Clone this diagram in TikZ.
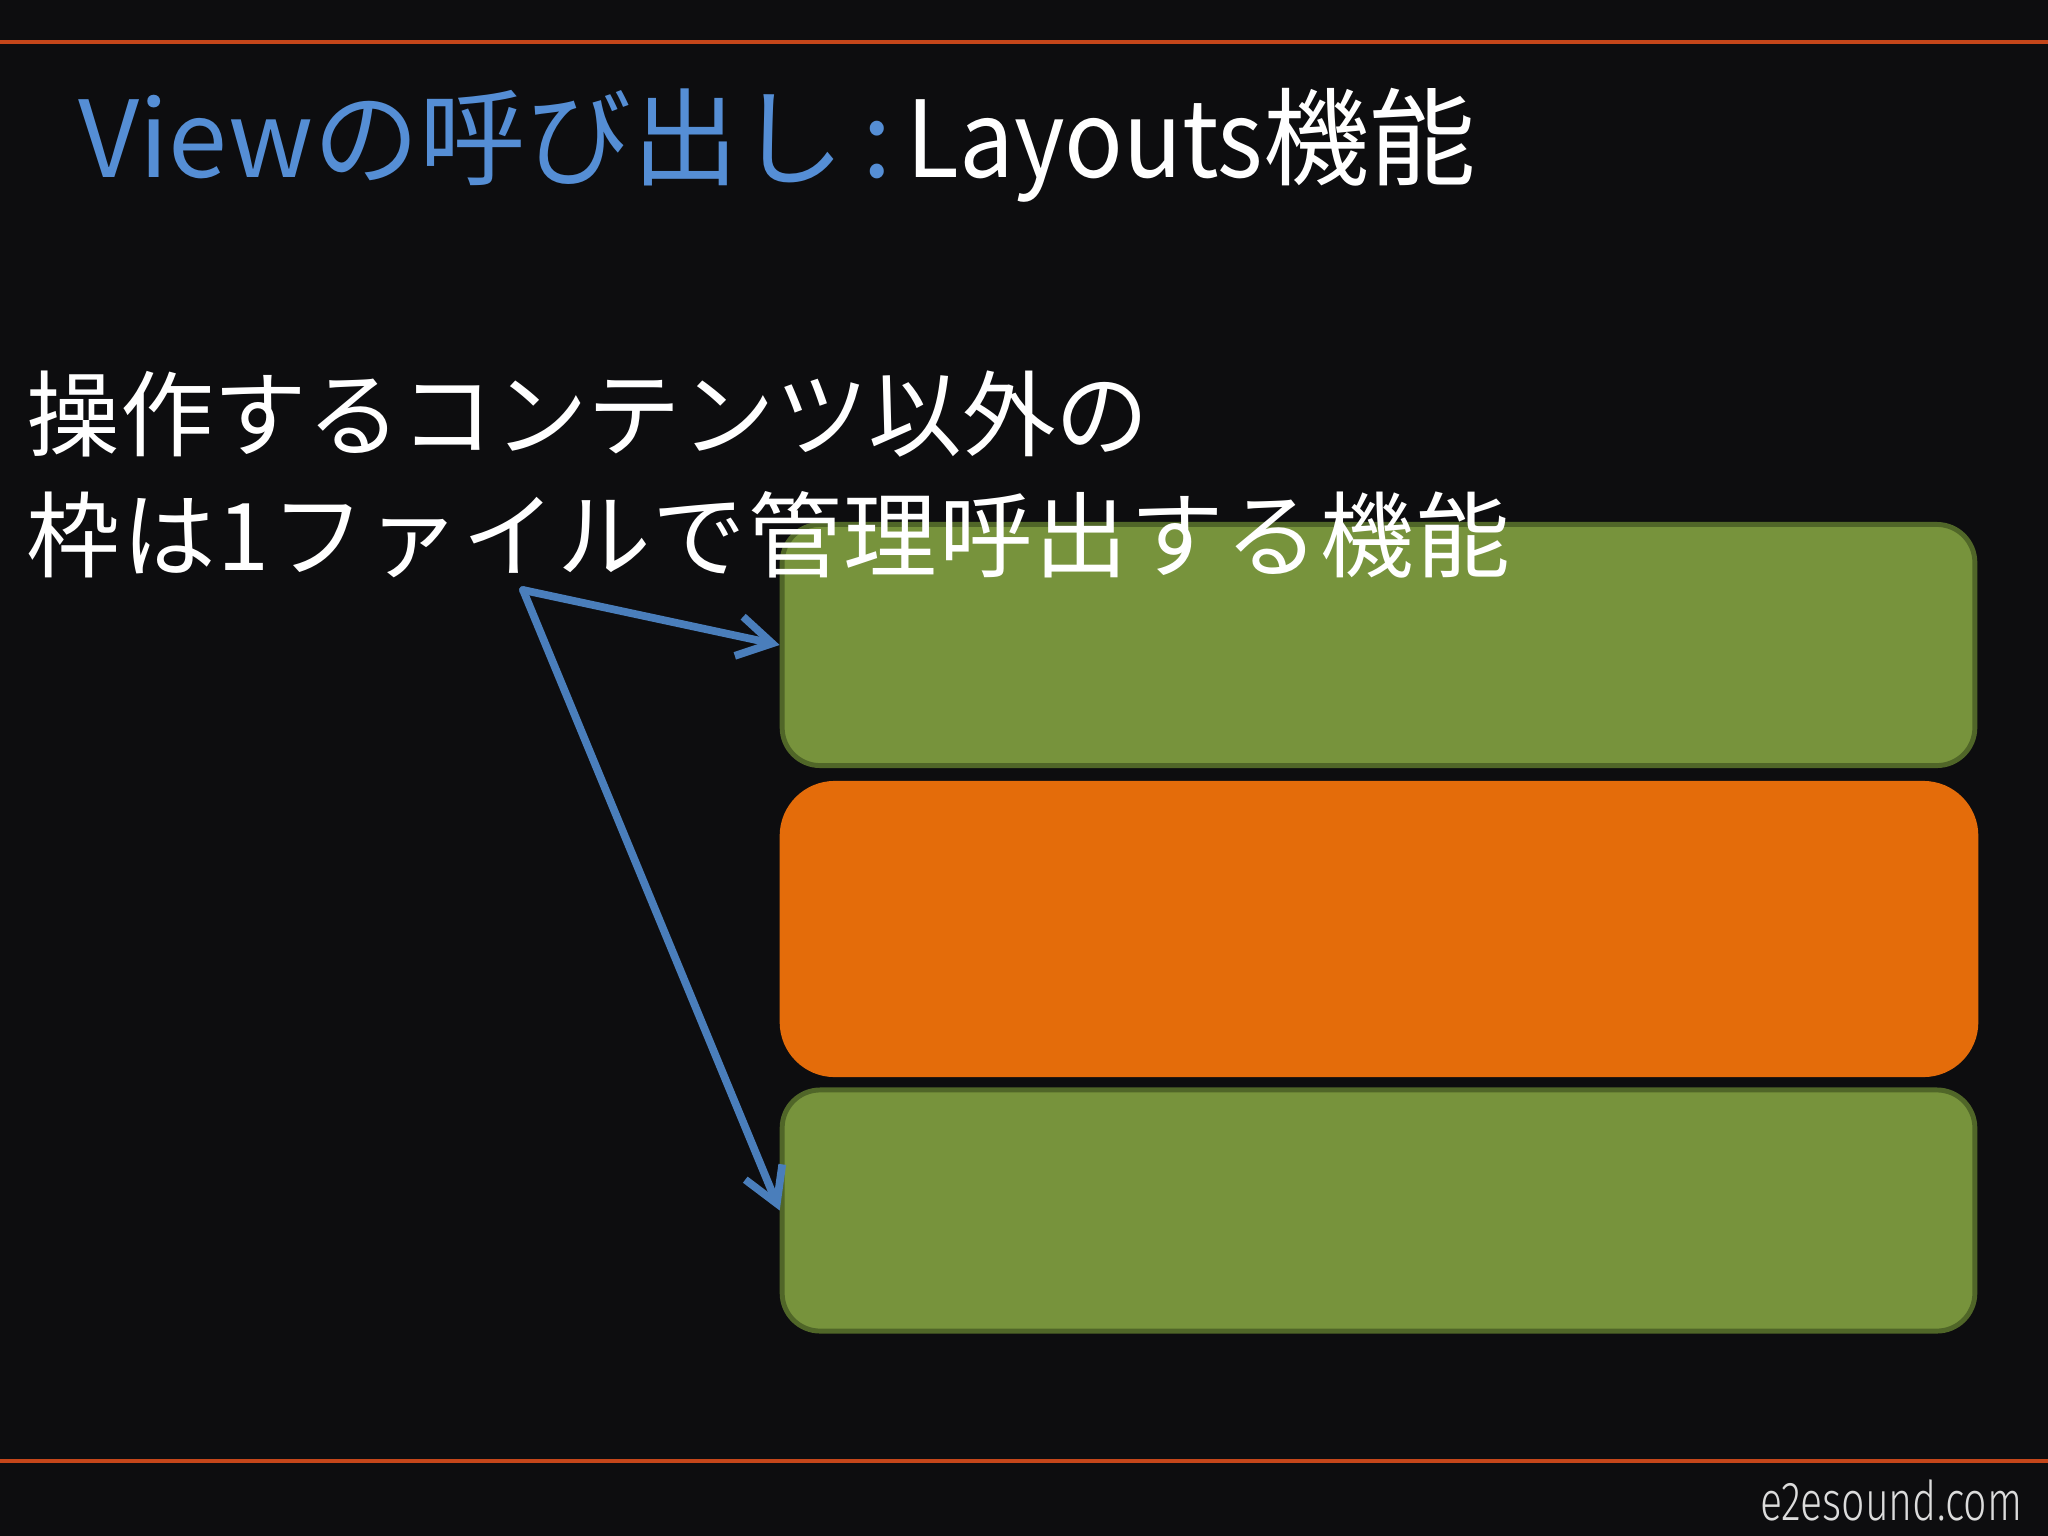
\documentclass[tikz,border=0pt]{standalone}
\usepackage{fontspec}
\setmainfont{Noto Sans CJK JP}
\newfontfamily\logofont{Fira Sans Light}
\usetikzlibrary{arrows.meta}
\definecolor{bg}{RGB}{13,13,15}
\definecolor{rule}{RGB}{196,70,26}
\definecolor{titleblue}{RGB}{85,142,213}
\definecolor{arrowblue}{RGB}{74,126,187}
\definecolor{boxgreen}{RGB}{119,147,60}
\definecolor{boxgreendark}{RGB}{80,102,40}
\definecolor{boxorange}{RGB}{228,108,10}
\definecolor{logogrey}{RGB}{220,220,220}
\tikzset{
  greenbox/.style={draw=boxgreendark, line width=1.4pt, fill=boxgreen, rounded corners=0.38cm, minimum width=11.92cm, minimum height=2.41cm, inner sep=0pt},
  orangebox/.style={fill=boxorange, rounded corners=0.55cm, minimum width=11.98cm, minimum height=2.96cm, inner sep=0pt},
  callout/.style={draw=arrowblue, line width=2.2pt, line cap=round, line join=round, -{Straight Barb[length=0.34cm, width=0.4cm, line width=2.2pt]}},
  titlefont/.style={font=\fontsize{30.2pt}{36pt}\selectfont, inner sep=0pt, anchor=base west},
  bodyfont/.style={font=\fontsize{26.6pt}{34pt}\selectfont, text=white, inner sep=0pt, anchor=base west},
}
\begin{document}
\begin{tikzpicture}[x=0.01cm, y=-0.01cm]
  \fill[bg] (0,0) rectangle (2048,1536);
  \useasboundingbox (0,0) rectangle (2048,1536);
  \draw[rule, line width=0.9pt] (0,42) -- (2048,42);
  \draw[rule, line width=0.9pt] (0,1461) -- (2048,1461);
  % title
  \node[titlefont] (title) at (78,177) {\textcolor{titleblue}{Viewの呼び出し\,:\hspace{0.14em}}\textcolor{white}{\scalebox{0.915}[1]{Layouts}機能}};
  % boxes
  \node[greenbox] (g1) at (1378.5,645) {};
  \node[orangebox] (o1) at (1379,929) {};
  \node[greenbox] (g2) at (1378.5,1210.5) {};
  % body text
  \node[bodyfont] (l1) at (26,449) {操作するコンテンツ以外の};
  \node[bodyfont] (l2) at (26,570) {\addfontfeatures{LetterSpace=2}枠は1ファイルで管理呼出する機能};
  % arrows
  \coordinate (src) at (523,590);
  \draw[callout] (src) -- (g1.west);
  \draw[callout] (src) -- (g2.west);
  % logo
  \node[font=\logofont\fontsize{15.6pt}{18pt}\selectfont, text=logogrey, inner sep=0pt, anchor=base east] (logo) at (2023,1520) {\scalebox{0.75}[1]{e2esound.com}};
\end{tikzpicture}
\end{document}
